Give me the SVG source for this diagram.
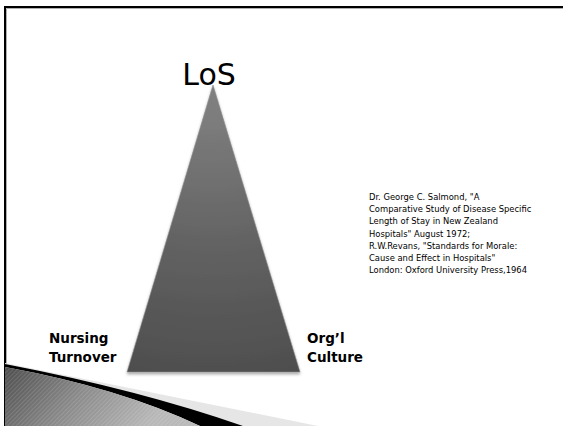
<svg xmlns="http://www.w3.org/2000/svg" width="563" height="426" viewBox="0 0 563 426">
  <style>
    .lbl { font-family: "DejaVu Sans", "Liberation Sans", sans-serif; font-weight: bold; font-size: 13.5px; fill: #000; }
    .cite { font-family: "DejaVu Sans", "Liberation Sans", sans-serif; font-size: 8.4px; fill: #000; }
    .title { font-family: "DejaVu Sans", "Liberation Sans", sans-serif; font-size: 30px; fill: #000; }
  </style>
  <defs>
    <radialGradient id="triGrad" gradientUnits="userSpaceOnUse" cx="213" cy="40" r="340">
      <stop offset="0" stop-color="#858585"/>
      <stop offset="0.25" stop-color="#7c7c7c"/>
      <stop offset="0.3" stop-color="#777777"/>
      <stop offset="0.4" stop-color="#717171"/>
      <stop offset="0.5" stop-color="#6a6a6a"/>
      <stop offset="0.6" stop-color="#636363"/>
      <stop offset="0.7" stop-color="#5d5d5d"/>
      <stop offset="0.8" stop-color="#585858"/>
      <stop offset="0.9" stop-color="#535353"/>
      <stop offset="1" stop-color="#4e4e4e"/>
    </radialGradient>
    <linearGradient id="swooshGrad" gradientUnits="userSpaceOnUse" x1="5" y1="365" x2="120" y2="460">
      <stop offset="0" stop-color="#4d4d4d"/>
      <stop offset="0.5" stop-color="#8a8a8a"/>
      <stop offset="1" stop-color="#b8b8b8"/>
    </linearGradient>
    <pattern id="hatch" width="3" height="3" patternUnits="userSpaceOnUse" patternTransform="rotate(45)">
      <rect width="1" height="3" fill="#ffffff" opacity="0.12"/>
    </pattern>
    <filter id="shadow" x="-20%" y="-20%" width="140%" height="140%">
      <feGaussianBlur in="SourceAlpha" stdDeviation="1.5"/>
      <feOffset dx="0" dy="2" result="b"/>
      <feComponentTransfer><feFuncA type="linear" slope="0.35"/></feComponentTransfer>
      <feMerge><feMergeNode/><feMergeNode in="SourceGraphic"/></feMerge>
    </filter>
  </defs>

  <rect width="563" height="426" fill="#ffffff"/>

  <!-- frame -->
  <g id="frame">
    <path d="M5.5 426 V7.5 H563" fill="none" stroke="#b0b0b0" stroke-width="1" transform="translate(1,1)"/>
    <path d="M5 426 V7 H563" fill="none" stroke="#000" stroke-width="2"/>
  </g>

  <!-- bottom swoosh -->
  <g id="swoosh">
    <polygon points="5,363 318,426 5,426" fill="#e6e6e6"/>
    <path d="M5 364 Q140 390 243 426 L200 426 Q120 388 5 367 Z" fill="#000"/>
    <path d="M5 367 Q120 388 200 426 L5 426 Z" fill="url(#swooshGrad)"/>
    <path d="M5 367 Q120 388 200 426 L5 426 Z" fill="url(#hatch)"/>
  </g>

  <!-- triangle -->
  <g id="triangle">
    <polygon points="213,85 300,372 127,372" fill="url(#triGrad)" stroke="#8c8c8c" stroke-width="0.6" filter="url(#shadow)"/>
  </g>

  <g id="node-los">
    <text class="title" x="209" y="85" text-anchor="middle">LoS</text>
  </g>

  <g id="node-nursing">
    <text class="lbl" x="49" y="343">Nursing</text>
    <text class="lbl" x="49" y="362">Turnover</text>
  </g>

  <g id="node-culture">
    <text class="lbl" x="307" y="343">Org’l</text>
    <text class="lbl" x="307" y="362">Culture</text>
  </g>

  <g id="citation">
    <text class="cite" x="369" y="200">Dr. George C. Salmond, "A</text>
    <text class="cite" x="369" y="212.2">Comparative Study of Disease Specific</text>
    <text class="cite" x="369" y="224.4">Length of Stay in New Zealand</text>
    <text class="cite" x="369" y="236.6">Hospitals" August 1972;</text>
    <text class="cite" x="369" y="248.8">R.W.Revans, "Standards for Morale:</text>
    <text class="cite" x="369" y="261">Cause and Effect in Hospitals"</text>
    <text class="cite" x="369" y="273.2">London: Oxford University Press,1964</text>
  </g>

  <g id="connectors"></g>
</svg>
